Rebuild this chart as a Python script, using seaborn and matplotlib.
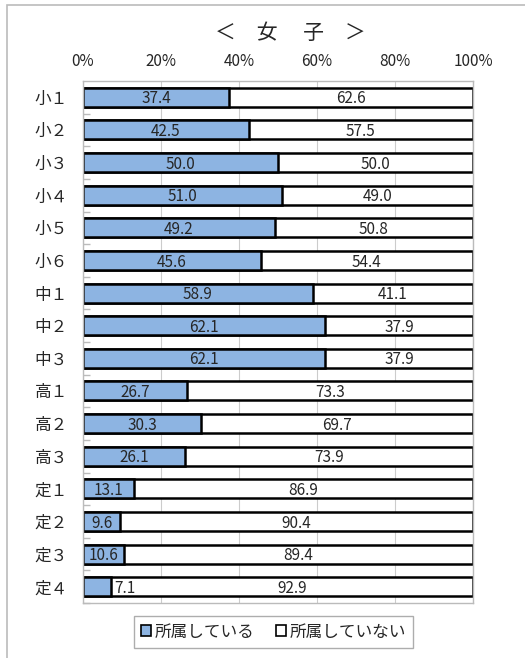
import matplotlib
matplotlib.use("Agg")
import matplotlib.pyplot as plt
import seaborn as sns
import pandas as pd
from matplotlib.patches import Patch, Rectangle
from matplotlib.ticker import FixedLocator

categories = ["小１", "小２", "小３", "小４", "小５", "小６", "中１", "中２", "中３",
              "高１", "高２", "高３", "定１", "定２", "定３", "定４"]
belong = [37.4, 42.5, 50.0, 51.0, 49.2, 45.6, 58.9, 62.1, 62.1,
          26.7, 30.3, 26.1, 13.1, 9.6, 10.6, 7.1]
not_belong = [62.6, 57.5, 50.0, 49.0, 50.8, 54.4, 41.1, 37.9, 37.9,
              73.3, 69.7, 73.9, 86.9, 90.4, 89.4, 92.9]
xticks = [0, 20, 40, 60, 80, 100]
xticklabels = ["0%", "20%", "40%", "60%", "80%", "100%"]
title = "＜　女　 子　＞"
legend_labels = ["所属している", "所属していない"]

sns.set_theme(style="white")
plt.rcParams["font.family"] = ["Noto Sans CJK JP", "DejaVu Sans"]

df = pd.DataFrame({"cat": categories, "belong": belong, "not": not_belong})
df["total"] = df["belong"] + df["not"]

fig = plt.figure(figsize=(5.25, 6.58), dpi=100)
ax = fig.add_axes([83 / 525, 1 - 603 / 658, 390 / 525, (603 - 81) / 658])

blue = "#8DB4E2"
sns.barplot(data=df, y="cat", x="total", color="white", edgecolor="black",
            linewidth=1.8, width=0.58, orient="h", ax=ax, saturation=1)
sns.barplot(data=df, y="cat", x="belong", color=blue, edgecolor="black",
            linewidth=1.8, width=0.58, orient="h", ax=ax, saturation=1)

for i, (b, n) in enumerate(zip(belong, not_belong)):
    if b < 8:
        ax.text(b + 0.8, i + 0.05, f"{b:.1f}", ha="left", va="center", fontsize=11)
    else:
        ax.text(b / 2, i + 0.05, f"{b:.1f}", ha="center", va="center", fontsize=11)
    ax.text(b + n / 2, i + 0.05, f"{n:.1f}", ha="center", va="center", fontsize=11)

ax.set_xlim(0, 100)
ax.set_ylim(len(categories) - 0.5, -0.5)
ax.set_xticks(xticks)
ax.set_xticklabels(xticklabels, fontsize=11)
ax.xaxis.tick_top()
ax.tick_params(axis="x", length=0, pad=8)
ax.set_xlabel("")
ax.set_ylabel("")
ax.set_yticks(range(len(categories)))
ax.set_yticklabels(categories, fontsize=12)
ax.tick_params(axis="y", length=0, pad=11)
ax.yaxis.set_minor_locator(FixedLocator([i + 0.5 for i in range(len(categories))]))
ax.tick_params(axis="y", which="minor", direction="in", length=5, color="#bbbbbb", left=True)
ax.grid(axis="x", color="#cccccc", linewidth=0.8)
ax.set_axisbelow(True)
for s in ax.spines.values():
    s.set_color("#bbbbbb")
    s.set_linewidth(1.0)

fig.text(290 / 525, 1 - 33 / 658, title, ha="center", va="center", fontsize=15)

handles = [Patch(facecolor=blue, edgecolor="black", linewidth=1.2),
           Patch(facecolor="white", edgecolor="black", linewidth=1.2)]
leg = fig.legend(handles, legend_labels, loc="center", bbox_to_anchor=(273.5 / 525, 1 - 632 / 658),
                 ncol=2, frameon=True, fancybox=False, fontsize=12, handlelength=0.6,
                 handleheight=0.6, handletextpad=0.2, columnspacing=1.3,
                 borderpad=0.45)
leg.get_frame().set_edgecolor("#999999")
leg.get_frame().set_linewidth(1.0)

fig.patches.append(Rectangle((7 / 525, -0.01), 1.1, 1 - 5 / 658 + 0.01, transform=fig.transFigure,
                             fill=False, edgecolor="#bbbbbb", linewidth=1.2))

fig.savefig("out.png", dpi=100)
